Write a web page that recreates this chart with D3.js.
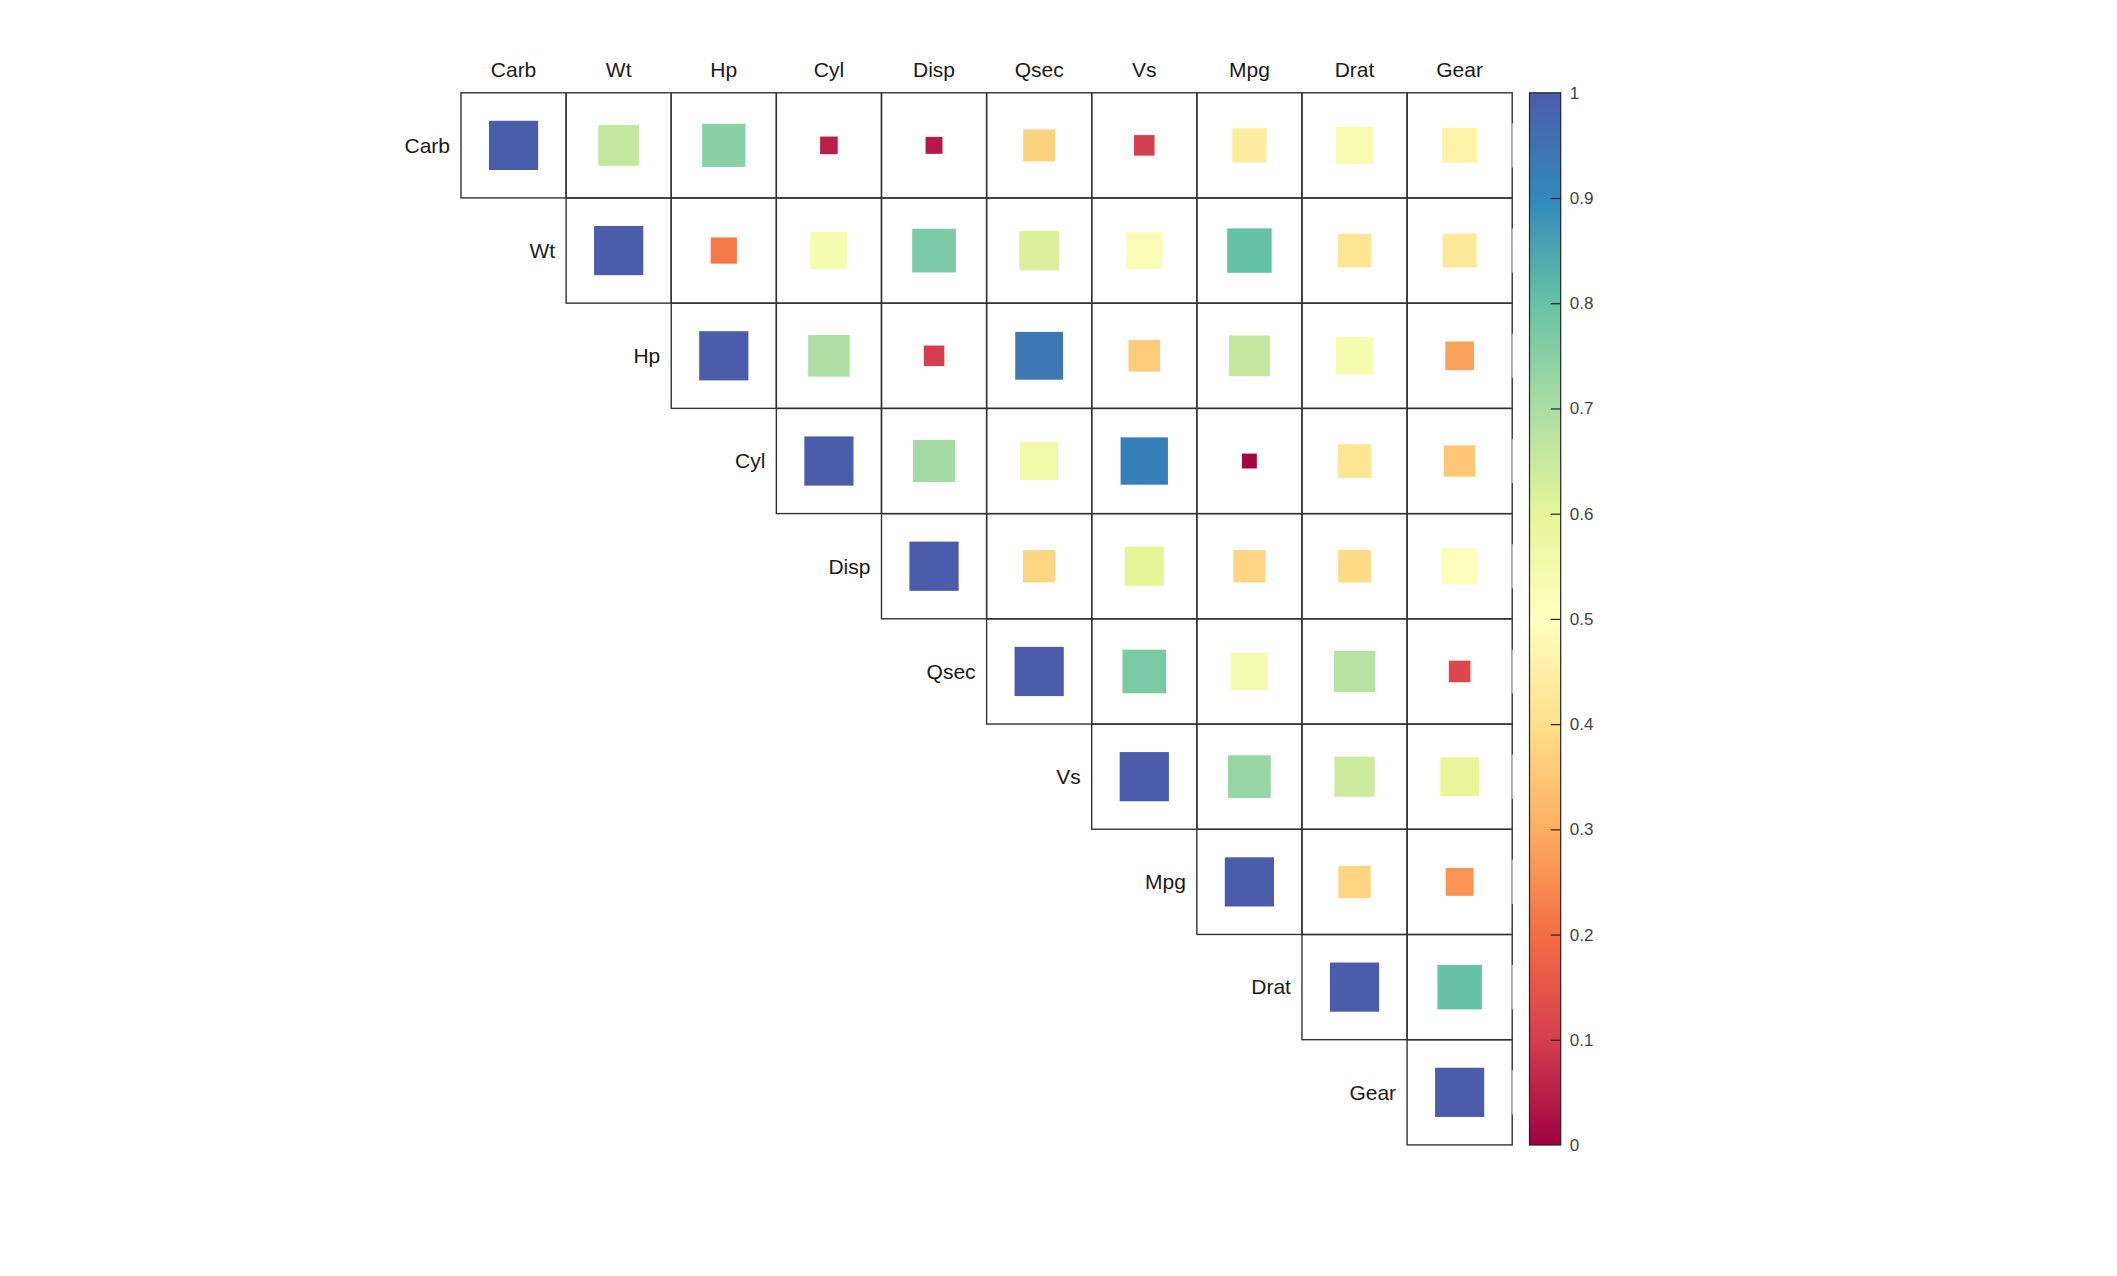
<!DOCTYPE html>
<html>
<head>
<meta charset="utf-8">
<script src="https://cdn.jsdelivr.net/npm/d3@7"></script>
<style>
  html, body { margin: 0; padding: 0; background: #fff; }
  text { font-family: "Liberation Sans", Arial, sans-serif; }
</style>
</head>
<body>
<div id="chart"></div>
<script>
// variables, in plot order
var variables = ["Carb", "Wt", "Hp", "Cyl", "Disp", "Qsec", "Vs", "Mpg", "Drat", "Gear"]

// upper triangle, each row starts at the diagonal
var carbRow = [1.00, 0.66, 0.75, 0.05, 0.04, 0.37, 0.10, 0.44, 0.53, 0.46]
var wtRow   = [1.00, 0.22, 0.54, 0.77, 0.62, 0.52, 0.80, 0.42, 0.43]
var hpRow   = [1.00, 0.69, 0.10, 0.94, 0.36, 0.66, 0.54, 0.28]
var cylRow  = [1.00, 0.71, 0.56, 0.92, 0.01, 0.42, 0.35]
var dispRow = [1.00, 0.38, 0.60, 0.38, 0.39, 0.51]
var qsecRow = [1.00, 0.77, 0.54, 0.68, 0.12]
var vsRow   = [1.00, 0.73, 0.64, 0.59]
var mpgRow  = [1.00, 0.38, 0.26]
var dratRow = [1.00, 0.80]
var gearRow = [1.00]

var colorbarTicks = [0, 0.1, 0.2, 0.3, 0.4, 0.5, 0.6, 0.7, 0.8, 0.9, 1]
var paletteStops  = ["#9e0142", "#d53e4f", "#f46d43", "#fdae61", "#fee08b", "#ffffbf",
                     "#e6f598", "#abdda4", "#66c2a5", "#3288bd", "#4b5caa"]

var rows = [carbRow, wtRow, hpRow, cylRow, dispRow, qsecRow, vsRow, mpgRow, dratRow, gearRow]

// flatten to cells
var cells = []
rows.forEach(function (row, i) {
    row.forEach(function (v, k) {
        cells.push({ row: variables[i], col: variables[i + k], value: v })
    })
})

var width = 2117
var height = 1276

var gridLeft = 461, gridRight = 1512.2
var gridTop = 92.8, gridBottom = 1145

var svg = d3.select("#chart")
    .append("svg")
    .attr("width", width)
    .attr("height", height)

svg.append("rect").attr("width", width).attr("height", height).attr("fill", "#fff")

var x = d3.scaleBand().domain(variables).range([gridLeft, gridRight])
var y = d3.scaleBand().domain(variables).range([gridTop, gridBottom])
var bw = x.bandwidth()

var color = d3.scaleLinear().domain(colorbarTicks).range(paletteStops)

// square area grows linearly with the value
var area = d3.scaleLinear().domain([0, 1]).range([14.1 * 14.1, 49.2 * 49.2])
function side (v) { return Math.sqrt(area(v)) }

// cell borders
svg.append("g")
    .selectAll("rect")
    .data(cells)
    .enter()
    .append("rect")
    .attr("x", function (d) { return x(d.col) })
    .attr("y", function (d) { return y(d.row) })
    .attr("width", bw)
    .attr("height", bw)
    .attr("fill", "none")
    .attr("stroke", "#333")
    .attr("stroke-width", 1.4)

// lighter middle parts on the right edge
svg.append("g")
    .selectAll("line")
    .data(variables)
    .enter()
    .append("line")
    .attr("x1", gridRight).attr("x2", gridRight)
    .attr("y1", function (d) { return y(d) + bw * 0.29 })
    .attr("y2", function (d) { return y(d) + bw * 0.71 })
    .attr("stroke", "#b8b8b8")
    .attr("stroke-width", 1.6)

// squares
svg.append("g")
    .selectAll("rect")
    .data(cells)
    .enter()
    .append("rect")
    .attr("x", function (d) { return x(d.col) + (bw - side(d.value)) / 2 })
    .attr("y", function (d) { return y(d.row) + (bw - side(d.value)) / 2 })
    .attr("width", function (d) { return side(d.value) })
    .attr("height", function (d) { return side(d.value) })
    .attr("fill", function (d) { return color(d.value) })

// column labels
svg.append("g")
    .selectAll("text")
    .data(variables)
    .enter()
    .append("text")
    .attr("x", function (d) { return x(d) + bw / 2 })
    .attr("y", gridTop - 16)
    .attr("text-anchor", "middle")
    .attr("font-size", 21)
    .attr("fill", "#1a1a1a")
    .text(function (d) { return d })

// row labels, left of the diagonal cell
svg.append("g")
    .selectAll("text")
    .data(variables)
    .enter()
    .append("text")
    .attr("x", function (d) { return x(d) - 11 })
    .attr("y", function (d) { return y(d) + bw / 2 })
    .attr("dy", "0.35em")
    .attr("text-anchor", "end")
    .attr("font-size", 21)
    .attr("fill", "#1a1a1a")
    .text(function (d) { return d })

// colour bar
var barLeft = 1529.5, barWidth = 31.2
var defs = svg.append("defs")
var grad = defs.append("linearGradient")
    .attr("id", "cbar")
    .attr("x1", "0").attr("y1", "1").attr("x2", "0").attr("y2", "0")
grad.selectAll("stop")
    .data(colorbarTicks)
    .enter()
    .append("stop")
    .attr("offset", function (d) { return d })
    .attr("stop-color", function (d) { return color(d) })

svg.append("rect")
    .attr("x", barLeft)
    .attr("y", gridTop)
    .attr("width", barWidth)
    .attr("height", gridBottom - gridTop)
    .attr("fill", "url(#cbar)")
    .attr("stroke", "#222")
    .attr("stroke-width", 1.2)

var barScale = d3.scaleLinear().domain([0, 1]).range([gridBottom, gridTop])
var barAxis = d3.axisRight(barScale)
    .tickValues(colorbarTicks)
    .tickFormat(d3.format("~g"))
    .tickSize(-10)
    .tickPadding(9)

var axisG = svg.append("g")
    .attr("transform", "translate(" + (barLeft + barWidth) + ",0)")
    .call(barAxis)
axisG.select(".domain").remove()
axisG.selectAll(".tick line").attr("stroke", "#222").attr("stroke-width", 1.2)
axisG.selectAll(".tick text")
    .attr("font-family", "'Liberation Sans', Arial, sans-serif")
    .attr("font-size", 17)
    .attr("fill", "#444")
// end ticks are hidden by the bar border
axisG.selectAll(".tick line").filter(function (d) { return d === 0 || d === 1 }).remove()
</script>
</body>
</html>
